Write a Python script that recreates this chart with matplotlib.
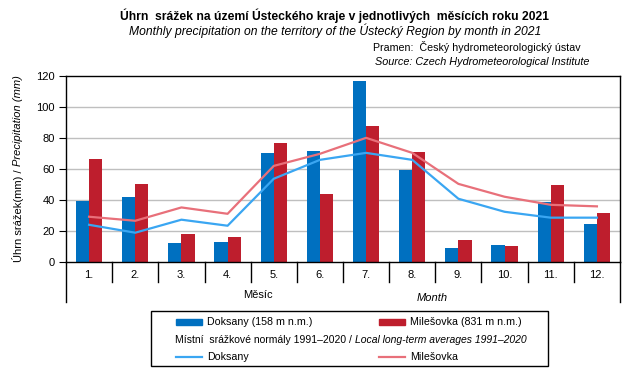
import matplotlib
matplotlib.use('Agg')
import matplotlib.pyplot as plt
from matplotlib.lines import Line2D
from matplotlib.patches import Rectangle
import numpy as np

months = ['1.', '2.', '3.', '4.', '5.', '6.', '7.', '8.', '9.', '10.', '11.', '12.']
doksany = [39.5, 42.1, 12.5, 13.1, 70.4, 71.7, 116.8, 59.5, 9.2, 11.2, 38.9, 24.7]
milesovka = [66.6, 50.5, 18.2, 16.3, 76.9, 44.0, 87.8, 71.1, 14.4, 10.5, 49.8, 31.8]
norm_doksany = [24.0, 18.9, 27.3, 23.4, 53.7, 65.9, 70.4, 65.9, 40.8, 32.4, 28.6, 28.6]
norm_milesovka = [29.2, 26.6, 35.2, 31.1, 62.0, 69.8, 80.1, 70.4, 50.4, 42.1, 36.9, 35.9]
y_ticks = [0, 20, 40, 60, 80, 100, 120]

c_blue = '#0070C0'
c_red = '#BE1E2D'
c_lblue = '#3AA6F2'
c_lred = '#E8707A'

plt.rcParams['font.family'] = ['Liberation Sans', 'DejaVu Sans']

W, H = 643, 380
fig = plt.figure(figsize=(W / 100, H / 100), dpi=100)


def fx(px):
    return px / W


def fy(py):
    return 1 - py / H


ax_top, ax_bot = 76, 262
ax = fig.add_axes([fx(66), fy(ax_bot), fx(620) - fx(66), (ax_bot - ax_top) / H])

x = np.arange(len(months))
bw = 0.285
ax.bar(x - bw / 2, doksany, bw, color=c_blue, zorder=2)
ax.bar(x + bw / 2, milesovka, bw, color=c_red, zorder=2)
ax.plot(x, norm_doksany, color=c_lblue, lw=1.6, zorder=3)
ax.plot(x, norm_milesovka, color=c_lred, lw=1.6, zorder=3)

ax.set_xlim(-0.5, len(months) - 0.5)
ax.set_ylim(0, 120)
ax.set_yticks(y_ticks)
ax.tick_params(axis='y', length=5, width=0.8, labelsize=8, pad=3)
ax.set_xticks([])
for sp in ax.spines.values():
    sp.set_linewidth(1.0)
for t in y_ticks[1:-1]:
    ax.axhline(t, color='#BFBFBF', lw=1.0, zorder=1)

# category separators under the axis
trans = ax.get_xaxis_transform()
hpx = ax_bot - ax_top
for k in range(len(months) + 1):
    low = -40 / hpx if k in (0, len(months)) else -20 / hpx
    ax.plot([k - 0.5, k - 0.5], [0, low], color='black', lw=1.0,
            transform=trans, clip_on=False)
for i, m in enumerate(months):
    ax.text(i, -13 / hpx, m, transform=trans, ha='center', va='center', fontsize=8)

fig.text(fx(258), fy(295), 'Měsíc', ha='center', va='center', fontsize=8)
fig.text(fx(432), fy(298), 'Month', ha='center', va='center', fontsize=8, style='italic')

# titles
fig.text(fx(334), fy(16), 'Úhrn  srážek na území Ústeckého kraje v jednotlivých  měsících roku 2021',
         ha='center', va='center', fontsize=8.7, weight='bold')
fig.text(fx(335), fy(31), 'Monthly precipitation on the territory of the Ústecký Region by month in 2021',
         ha='center', va='center', fontsize=8.7, style='italic')
fig.text(fx(373), fy(47), 'Pramen:  Český hydrometeorologický ústav',
         ha='left', va='center', fontsize=7.7)
fig.text(fx(375), fy(62), 'Source: Czech Hydrometeorological Institute',
         ha='left', va='center', fontsize=7.8, style='italic')

# y label, normal + italic parts
renderer = fig.canvas.get_renderer()
yl1 = fig.text(fx(18), fy(262), 'Úhrn srážek(mm) / ', rotation=90,
               ha='center', va='bottom', fontsize=8)
bb = yl1.get_window_extent(renderer)
fig.text(fx(18), bb.y1 / fig.dpi / fig.get_figheight(), 'Precipitation (mm)', rotation=90,
         ha='center', va='bottom', fontsize=8, style='italic')

# legend box
fig.patches.append(Rectangle((fx(151), fy(366)), fx(548) - fx(151), (366 - 311) / H,
                             transform=fig.transFigure, fill=False, ec='black', lw=1.0))
fig.patches.append(Rectangle((fx(176), fy(325)), fx(26), 6 / H, transform=fig.transFigure,
                             color=c_blue))
fig.patches.append(Rectangle((fx(379), fy(325)), fx(26), 6 / H, transform=fig.transFigure,
                             color=c_red))
fig.text(fx(207), fy(322), 'Doksany (158 m n.m.)', ha='left', va='center', fontsize=7.7)
fig.text(fx(410), fy(322), 'Milešovka (831 m n.m.)', ha='left', va='center', fontsize=7.7)
fig.lines.append(Line2D([fx(176), fx(202)], [fy(357), fy(357)], transform=fig.transFigure,
                        color=c_lblue, lw=1.6))
fig.lines.append(Line2D([fx(379), fx(405)], [fy(357), fy(357)], transform=fig.transFigure,
                        color=c_lred, lw=1.6))
fig.text(fx(207), fy(357), 'Doksany', ha='left', va='center', fontsize=7.7)
fig.text(fx(410), fy(357), 'Milešovka', ha='left', va='center', fontsize=7.7)
lt1 = fig.text(fx(175), fy(340), 'Místní  srážkové normály 1991–2020 / ', ha='left',
               va='center', fontsize=7.5)
bb = lt1.get_window_extent(renderer)
fig.text(bb.x1 / fig.dpi / fig.get_figwidth(), fy(340), 'Local long-term averages 1991–2020',
         ha='left', va='center', fontsize=7.5, style='italic')

fig.savefig('out.png', dpi=100)
